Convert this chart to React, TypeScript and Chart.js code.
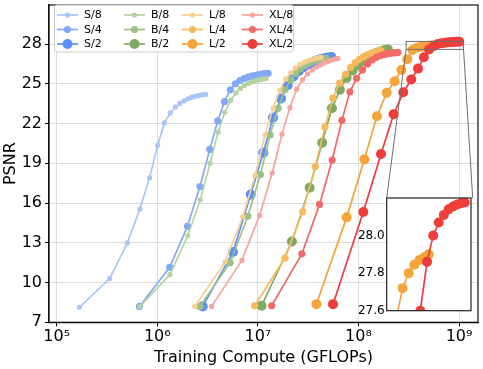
import React, { useEffect, useRef } from 'react';
import { Chart, registerables } from 'chart.js';

Chart.register(...registerables);

const FONT = "'DejaVu Sans', sans-serif";

// ---- series (matplotlib plotting order) ----
const seriesLabels = ['S/8', 'S/4', 'S/2', 'B/8', 'B/4', 'B/2', 'L/8', 'L/4', 'L/2', 'XL/8', 'XL/4', 'XL/2'];
const seriesColors = [
  '#a9c5f8', '#83a9f6', '#5d8ff5',
  '#b4d2a2', '#9cc188', '#7faa66',
  '#f8cf92', '#f6ba5a', '#f3a53a',
  '#f7a3a0', '#f26a66', '#ee3d3b',
];
const seriesRadius = [2.6, 3.6, 5, 2.6, 3.6, 5, 2.6, 3.6, 5, 2.6, 3.6, 5];

const s8X = [1.68e5, 3.36e5, 5.04e5, 6.72e5, 8.4e5, 1.008e6, 1.176e6, 1.344e6, 1.512e6, 1.68e6, 1.848e6, 2.016e6, 2.184e6, 2.352e6, 2.52e6, 2.688e6, 2.856e6, 3.024e6];
const s8Y = [8.13, 10.3, 13.0, 15.55, 17.92, 20.37, 22.05, 22.8, 23.25, 23.52, 23.72, 23.87, 23.97, 24.04, 24.1, 24.14, 24.17, 24.2];

const s4X = [6.65e5, 1.33e6, 1.995e6, 2.66e6, 3.325e6, 3.99e6, 4.655e6, 5.32e6, 5.985e6, 6.65e6, 7.315e6, 7.98e6, 8.645e6, 9.31e6, 9.975e6, 1.064e7, 1.1305e7, 1.197e7, 1.2635e7];
const s4Y = [8.2, 11.15, 14.25, 17.25, 20.05, 22.2, 23.65, 24.55, 25.0, 25.25, 25.4, 25.5, 25.58, 25.63, 25.68, 25.72, 25.75, 25.78, 25.8];

const s2X = [2.83e6, 5.66e6, 8.49e6, 1.132e7, 1.415e7, 1.698e7, 1.981e7, 2.264e7, 2.547e7, 2.83e7, 3.113e7, 3.396e7, 3.679e7, 3.962e7, 4.245e7, 4.528e7, 4.811e7, 5.094e7, 5.377e7];
const s2Y = [8.2, 12.3, 16.65, 19.8, 22.45, 23.9, 24.9, 25.55, 25.95, 26.25, 26.45, 26.6, 26.72, 26.8, 26.87, 26.92, 26.96, 26.99, 27.02];

const b8X = [6.7e5, 1.34e6, 2.01e6, 2.68e6, 3.35e6, 4.02e6, 4.69e6, 5.36e6, 6.03e6, 6.7e6, 7.37e6, 8.04e6, 8.71e6, 9.38e6, 1.005e7, 1.072e7, 1.139e7, 1.206e7];
const b8Y = [8.2, 10.6, 13.55, 16.25, 19.0, 21.35, 22.85, 23.75, 24.3, 24.65, 24.88, 25.03, 25.14, 25.22, 25.28, 25.33, 25.37, 25.4];

const b4X = [2.65e6, 5.3e6, 7.95e6, 1.06e7, 1.325e7, 1.59e7, 1.855e7, 2.12e7, 2.385e7, 2.65e7, 2.915e7, 3.18e7, 3.445e7, 3.71e7, 3.975e7, 4.24e7, 4.505e7, 4.77e7];
const b4Y = [8.2, 11.5, 15.0, 18.15, 21.15, 23.15, 24.55, 25.3, 25.8, 26.15, 26.38, 26.55, 26.67, 26.76, 26.83, 26.88, 26.92, 26.95];

const b2X = [1.09e7, 2.18e7, 3.27e7, 4.36e7, 5.45e7, 6.54e7, 7.63e7, 8.72e7, 9.81e7, 1.09e8, 1.199e8, 1.308e8, 1.417e8, 1.526e8, 1.635e8, 1.744e8, 1.853e8, 1.962e8];
const b2Y = [8.25, 13.1, 17.15, 20.55, 23.15, 24.55, 25.45, 26.0, 26.4, 26.7, 26.92, 27.1, 27.23, 27.35, 27.43, 27.5, 27.56, 27.6];

const l8X = [2.36e6, 4.72e6, 7.08e6, 9.44e6, 1.18e7, 1.416e7, 1.652e7, 1.888e7, 2.124e7, 2.36e7, 2.596e7, 2.832e7, 3.068e7, 3.304e7, 3.54e7, 3.776e7, 4.012e7, 4.248e7];
const l8Y = [8.2, 11.55, 14.97, 18.12, 21.15, 23.15, 24.5, 25.35, 25.85, 26.2, 26.45, 26.6, 26.72, 26.8, 26.87, 26.92, 26.96, 27.0];

const l4X = [9.3e6, 1.86e7, 2.79e7, 3.72e7, 4.65e7, 5.58e7, 6.51e7, 7.44e7, 8.37e7, 9.3e7, 1.023e8, 1.116e8, 1.209e8, 1.302e8, 1.395e8, 1.488e8, 1.581e8, 1.674e8];
const l4Y = [8.25, 11.85, 15.35, 18.75, 21.75, 23.92, 25.05, 25.72, 26.25, 26.6, 26.85, 27.03, 27.16, 27.27, 27.35, 27.42, 27.47, 27.52];

const l2X = [3.82e7, 7.64e7, 1.146e8, 1.528e8, 1.91e8, 2.292e8, 2.674e8, 3.056e8, 3.438e8, 3.82e8, 4.202e8, 4.584e8, 4.966e8, 5.348e8, 5.73e8];
const l2Y = [8.37, 14.92, 19.3, 22.55, 24.33, 25.2, 26.05, 26.85, 27.55, 27.72, 27.8, 27.845, 27.87, 27.885, 27.9];

const xl8X = [3.47e6, 6.94e6, 1.041e7, 1.388e7, 1.735e7, 2.082e7, 2.429e7, 2.776e7, 3.123e7, 3.47e7, 3.817e7, 4.164e7, 4.511e7, 4.858e7, 5.205e7, 5.552e7, 5.899e7, 6.246e7];
const xl8Y = [8.2, 11.67, 15.07, 18.27, 21.2, 23.2, 24.6, 25.3, 25.75, 26.05, 26.27, 26.43, 26.56, 26.66, 26.75, 26.82, 26.88, 26.92];

const xl4X = [1.37e7, 2.74e7, 4.11e7, 5.48e7, 6.85e7, 8.22e7, 9.59e7, 1.096e8, 1.233e8, 1.37e8, 1.507e8, 1.644e8, 1.781e8, 1.918e8, 2.055e8, 2.192e8, 2.329e8, 2.466e8];
const xl4Y = [8.25, 12.17, 15.9, 19.25, 22.25, 24.4, 25.42, 26.05, 26.5, 26.8, 27.0, 27.12, 27.2, 27.26, 27.3, 27.33, 27.35, 27.37];

const xl2X = [5.59e7, 1.118e8, 1.677e8, 2.236e8, 2.795e8, 3.354e8, 3.913e8, 4.472e8, 5.031e8, 5.59e8, 6.149e8, 6.708e8, 7.267e8, 7.826e8, 8.385e8, 8.944e8, 9.503e8, 1.0062e9];
const xl2Y = [8.37, 15.33, 19.7, 22.7, 24.37, 25.32, 26.15, 27.0, 27.6, 27.86, 28.0, 28.07, 28.11, 28.14, 28.155, 28.165, 28.172, 28.176];

const seriesX = [s8X, s4X, s2X, b8X, b4X, b2X, l8X, l4X, l2X, xl8X, xl4X, xl2X];
const seriesY = [s8Y, s4Y, s2Y, b8Y, b4Y, b2Y, l8Y, l4Y, l2Y, xl8Y, xl4Y, xl2Y];

// ---- axes ----
const xTickValues = [1e5, 1e6, 1e7, 1e8, 1e9];
const xTickLabels = ['10⁵', '10⁶', '10⁷', '10⁸', '10⁹'];
const yTickValues = [7, 10, 13, 16, 19, 22, 25, 28];
const xLimits = [8.387e4, 1.544e9];
const yLimits = [7, 30.95];

// ---- inset ----
const insetXLimits = [2.98e8, 1.109e9];
const insetYLimits = [27.6, 28.2];
const insetYTicks = [27.6, 27.8, 28.0];

// inset canvas placement (layout)
const INSET_LEFT = 346;
const INSET_TOP = 190;
const INSET_W = 130;
const INSET_H = 128;
const INSET_AREA_LEFT = 40.7;
const INSET_AREA_RIGHT = 126.7;
const INSET_AREA_TOP = 8;
const INSET_AREA_BOTTOM = 120.7;

function buildDatasets(clip?: number) {
  const out: any[] = [];
  for (let i = seriesLabels.length - 1; i >= 0; i--) {
    const xs = seriesX[i];
    const ys = seriesY[i];
    const ds: any = {
      label: seriesLabels[i],
      data: xs.map((x, k) => ({ x, y: ys[k] })),
      borderColor: seriesColors[i],
      backgroundColor: seriesColors[i],
      pointBackgroundColor: seriesColors[i],
      pointBorderColor: seriesColors[i],
      pointBorderWidth: 0,
      pointRadius: seriesRadius[i],
      borderWidth: 1.7,
      tension: 0,
      fill: false,
    };
    if (clip !== undefined) ds.clip = clip;
    out.push(ds);
  }
  return out;
}

const legendColX = [57, 124, 182, 242];
const legendRowY = [15, 29.5, 44];

const mainDecor = {
  id: 'mainDecor',
  afterDatasetsDraw(chart: any) {
    const { ctx, chartArea, scales } = chart;
    const xs = scales.x;
    const ys = scales.y;
    ctx.save();
    // frame
    ctx.strokeStyle = '#111';
    ctx.lineWidth = 1.2;
    ctx.strokeRect(chartArea.left, chartArea.top, chartArea.right - chartArea.left, chartArea.bottom - chartArea.top);
    // inset indicator box
    const bx0 = xs.getPixelForValue(insetXLimits[0]);
    const bx1 = xs.getPixelForValue(insetXLimits[1]);
    const by0 = ys.getPixelForValue(insetYLimits[1]);
    const by1 = ys.getPixelForValue(insetYLimits[0]);
    ctx.strokeStyle = '#6e6e6e';
    ctx.lineWidth = 1;
    ctx.strokeRect(bx0, by0, bx1 - bx0, by1 - by0);
    // connectors to inset top corners
    const il = INSET_LEFT + INSET_AREA_LEFT;
    const ir = INSET_LEFT + INSET_AREA_RIGHT;
    const it = INSET_TOP + INSET_AREA_TOP;
    ctx.beginPath();
    ctx.moveTo(bx0, by1);
    ctx.lineTo(il, it);
    ctx.moveTo(bx1, by1);
    ctx.lineTo(ir, it);
    ctx.stroke();

    // legend
    const lx = 54.5, ly = 5, lw = 239, lh = 47, r = 2.5;
    ctx.beginPath();
    ctx.moveTo(lx + r, ly);
    ctx.lineTo(lx + lw - r, ly);
    ctx.quadraticCurveTo(lx + lw, ly, lx + lw, ly + r);
    ctx.lineTo(lx + lw, ly + lh - r);
    ctx.quadraticCurveTo(lx + lw, ly + lh, lx + lw - r, ly + lh);
    ctx.lineTo(lx + r, ly + lh);
    ctx.quadraticCurveTo(lx, ly + lh, lx, ly + lh - r);
    ctx.lineTo(lx, ly + r);
    ctx.quadraticCurveTo(lx, ly, lx + r, ly);
    ctx.closePath();
    ctx.fillStyle = 'rgba(255,255,255,0.85)';
    ctx.fill();
    ctx.strokeStyle = '#cccccc';
    ctx.lineWidth = 1;
    ctx.stroke();

    ctx.font = `11px ${FONT}`;
    ctx.textBaseline = 'middle';
    ctx.textAlign = 'left';
    seriesLabels.forEach((label, j) => {
      const col = Math.floor(j / 3);
      const row = j % 3;
      const x0 = legendColX[col];
      const y = legendRowY[row];
      ctx.strokeStyle = seriesColors[j];
      ctx.lineWidth = 1.7;
      ctx.beginPath();
      ctx.moveTo(x0, y);
      ctx.lineTo(x0 + 21, y);
      ctx.stroke();
      ctx.fillStyle = seriesColors[j];
      ctx.beginPath();
      ctx.arc(x0 + 10.5, y, seriesRadius[j], 0, Math.PI * 2);
      ctx.fill();
      ctx.fillStyle = '#000';
      ctx.fillText(label, x0 + 27, y + 0.5);
    });
    ctx.restore();
  },
};

const insetDecor = {
  id: 'insetDecor',
  beforeDraw(chart: any) {
    const { ctx, chartArea } = chart;
    ctx.save();
    ctx.fillStyle = '#ffffff';
    ctx.fillRect(chartArea.left, chartArea.top, chartArea.right - chartArea.left, chartArea.bottom - chartArea.top);
    ctx.restore();
  },
  afterDatasetsDraw(chart: any) {
    const { ctx, chartArea } = chart;
    ctx.save();
    ctx.strokeStyle = '#222';
    ctx.lineWidth = 1.2;
    ctx.strokeRect(chartArea.left, chartArea.top, chartArea.right - chartArea.left, chartArea.bottom - chartArea.top);
    ctx.restore();
  },
};

export default function App() {
  const mainRef = useRef<HTMLCanvasElement>(null);
  const insetRef = useRef<HTMLCanvasElement>(null);

  useEffect(() => {
    if (!mainRef.current || !insetRef.current) return;
    const tickFont = { family: FONT, size: 16 };
    const main = new Chart(mainRef.current, {
      type: 'line',
      data: { datasets: buildDatasets() },
      options: {
        animation: false,
        responsive: false,
        maintainAspectRatio: false,
        events: [],
        layout: { padding: { top: 2.5, right: 5, left: 0, bottom: 0 } },
        plugins: { legend: { display: false }, tooltip: { enabled: false } },
        scales: {
          x: {
            type: 'logarithmic',
            min: xLimits[0],
            max: xLimits[1],
            afterBuildTicks: (s: any) => {
              s.ticks = xTickValues.map((v) => ({ value: v }));
            },
            afterFit: (s: any) => {
              s.height = 46.7;
              s.paddingLeft = 0;
              s.paddingRight = 0;
            },
            ticks: {
              autoSkip: false,
              maxRotation: 0,
              minRotation: 0,
              padding: 1,
              color: '#000',
              font: tickFont,
              callback: (_v: any, i: number) => xTickLabels[i],
            },
            grid: { color: '#dcdcdc', lineWidth: 1, tickLength: 4, tickColor: '#000', drawTicks: true },
            border: { display: true, color: '#111', width: 1.2 },
            title: {
              display: true,
              text: 'Training Compute (GFLOPs)',
              color: '#000',
              font: { family: FONT, size: 16 },
              padding: { top: 0, bottom: 2 },
            },
          },
          y: {
            type: 'linear',
            min: yLimits[0],
            max: yLimits[1],
            afterBuildTicks: (s: any) => {
              s.ticks = yTickValues.map((v) => ({ value: v }));
            },
            afterFit: (s: any) => {
              s.width = 49;
              s.paddingTop = 0;
              s.paddingBottom = 0;
            },
            ticks: {
              autoSkip: false,
              padding: 3,
              color: '#000',
              font: tickFont,
              callback: (v: any) => String(v),
            },
            grid: { color: '#dcdcdc', lineWidth: 1, tickLength: 4, tickColor: '#000', drawTicks: true },
            border: { display: true, color: '#111', width: 1.2 },
            title: {
              display: true,
              text: 'PSNR',
              color: '#000',
              font: { family: FONT, size: 16 },
              padding: { top: 1, bottom: 0 },
            },
          },
        },
      } as any,
      plugins: [mainDecor],
    });

    const inset = new Chart(insetRef.current, {
      type: 'line',
      data: { datasets: buildDatasets(0) },
      options: {
        animation: false,
        responsive: false,
        maintainAspectRatio: false,
        events: [],
        layout: {
          padding: {
            top: INSET_AREA_TOP,
            right: INSET_W - INSET_AREA_RIGHT,
            left: 0,
            bottom: INSET_H - INSET_AREA_BOTTOM,
          },
        },
        plugins: { legend: { display: false }, tooltip: { enabled: false } },
        scales: {
          x: {
            type: 'logarithmic',
            display: false,
            min: insetXLimits[0],
            max: insetXLimits[1],
          },
          y: {
            type: 'linear',
            min: insetYLimits[0],
            max: insetYLimits[1],
            afterBuildTicks: (s: any) => {
              s.ticks = insetYTicks.map((v) => ({ value: v }));
            },
            afterFit: (s: any) => {
              s.width = INSET_AREA_LEFT;
              s.paddingTop = 0;
              s.paddingBottom = 0;
            },
            ticks: {
              autoSkip: false,
              padding: 2,
              color: '#000',
              font: { family: FONT, size: 12 },
              callback: (v: any) => Number(v).toFixed(1),
            },
            grid: { display: false, drawTicks: false, tickLength: 0 },
            border: { display: false },
          },
        },
      } as any,
      plugins: [insetDecor],
    });

    return () => {
      main.destroy();
      inset.destroy();
    };
  }, []);

  return (
    <div style={{ position: 'fixed', left: 0, top: 0, width: 483, height: 369, background: '#fff' }}>
      <canvas ref={mainRef} width={483} height={369} style={{ position: 'absolute', left: 0, top: 0 }} />
      <canvas
        ref={insetRef}
        width={INSET_W}
        height={INSET_H}
        style={{ position: 'absolute', left: INSET_LEFT, top: INSET_TOP }}
      />
    </div>
  );
}
